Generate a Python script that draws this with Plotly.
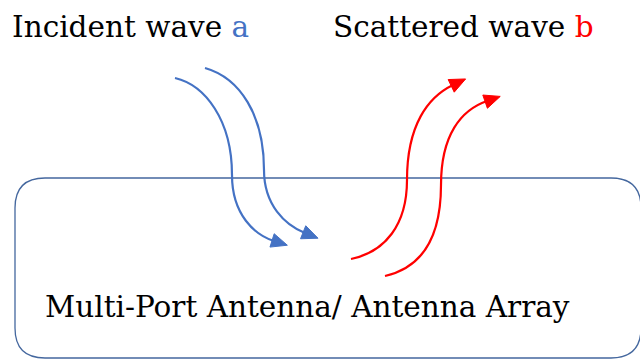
import plotly.graph_objects as go

# ---- diagram data (pixel space of the 640x360 canvas) ----
# Each wave = two cubic Bezier segments: start, c1, c2, mid, c3, c4, end
incident_1 = [(175, 78), (205, 85), (232, 120), (232, 175), (232, 215), (255, 235), (274, 241)]
incident_2 = [(205, 68), (240, 78), (264, 115), (264, 170), (264, 205), (285, 225), (305, 233)]
scattered_1 = [(351, 259), (385, 252), (407, 225), (407, 180), (407, 125), (428, 97), (453, 85)]
scattered_2 = [(385, 276), (420, 268), (441, 240), (441, 185), (441, 135), (461, 110), (487, 101)]

box = dict(left=15, top=178, right=641, bottom=358, r=30)

labels = [
    dict(text="Incident wave <span style='color:#4472C4'>a</span>", x=10, y=27),
    dict(text="Scattered wave <span style='color:#FF0000'>b</span>", x=331, y=27),
    dict(text="Multi-Port Antenna/ Antenna Array", x=43, y=307),
]

BLUE = "#4472C4"
RED = "#FF0000"
BOX = "#44679E"
FONT = "DejaVu Serif, Noto Serif, serif"


def bezier_path(pts):
    p = pts
    return (f"M {p[0][0]},{p[0][1]} C {p[1][0]},{p[1][1]} {p[2][0]},{p[2][1]} {p[3][0]},{p[3][1]} "
            f"C {p[4][0]},{p[4][1]} {p[5][0]},{p[5][1]} {p[6][0]},{p[6][1]}")


fig = go.Figure()
fig.add_trace(go.Scatter(x=[0, 640], y=[0, 360], mode="markers",
                         marker=dict(opacity=0, size=1), hoverinfo="skip", showlegend=False))

shapes = []
b = box
rect_path = (f"M {b['left']},{b['top']+b['r']} Q {b['left']},{b['top']} {b['left']+b['r']},{b['top']} "
             f"L {b['right']-b['r']},{b['top']} Q {b['right']},{b['top']} {b['right']},{b['top']+b['r']} "
             f"L {b['right']},{b['bottom']-b['r']} Q {b['right']},{b['bottom']} {b['right']-b['r']},{b['bottom']} "
             f"L {b['left']+b['r']},{b['bottom']} Q {b['left']},{b['bottom']} {b['left']},{b['bottom']-b['r']} Z")
shapes.append(dict(type="path", path=rect_path, xref="x", yref="y",
                   line=dict(color=BOX, width=1.3)))

HEAD_LEN = 16
HEAD_HALF = 7
for pts, col in [(incident_1, BLUE), (incident_2, BLUE), (scattered_1, RED), (scattered_2, RED)]:
    shapes.append(dict(type="path", path=bezier_path(pts), xref="x", yref="y",
                       line=dict(color=col, width=2.2)))
    # arrowhead triangle, aligned with the final tangent, placed past the curve end
    end = pts[6]
    ctrl = pts[5]
    dx, dy = end[0] - ctrl[0], end[1] - ctrl[1]
    n = (dx * dx + dy * dy) ** 0.5
    ux, uy = dx / n, dy / n
    vx, vy = -uy, ux
    bx, by = end[0] - ux * 2, end[1] - uy * 2
    tx, ty = bx + ux * HEAD_LEN, by + uy * HEAD_LEN
    tri = (f"M {tx},{ty} L {bx + vx * HEAD_HALF},{by + vy * HEAD_HALF} "
           f"L {bx - vx * HEAD_HALF},{by - vy * HEAD_HALF} Z")
    shapes.append(dict(type="path", path=tri, xref="x", yref="y",
                       fillcolor=col, line=dict(color=col, width=1)))

annotations = []
for lb in labels:
    annotations.append(dict(x=lb["x"], y=lb["y"], xref="x", yref="y", text=lb["text"],
                            showarrow=False, xanchor="left", yanchor="middle",
                            font=dict(family=FONT, size=29.5, color="#000000")))

fig.update_layout(
    width=640, height=360,
    margin=dict(l=0, r=0, t=0, b=0),
    paper_bgcolor="white", plot_bgcolor="white",
    font=dict(family=FONT),
    xaxis=dict(range=[0, 640], visible=False, fixedrange=True),
    yaxis=dict(range=[360, 0], visible=False, fixedrange=True),
    shapes=shapes, annotations=annotations, showlegend=False,
)
fig.write_html("out.html", config={"displayModeBar": False},
               post_script="document.body.style.margin='0';document.body.style.overflow='hidden';")
